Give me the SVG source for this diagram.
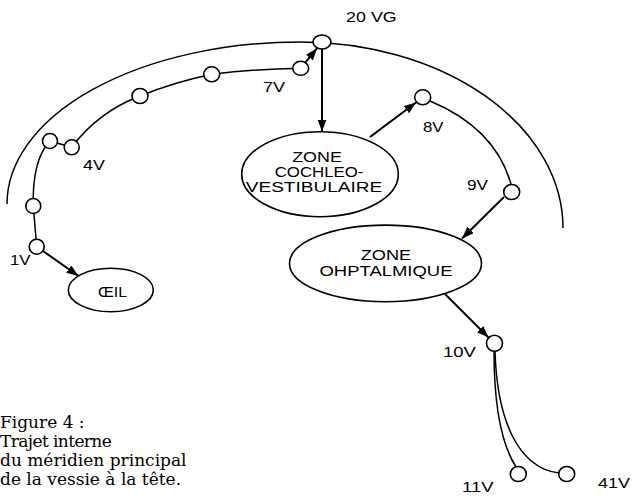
<svg xmlns="http://www.w3.org/2000/svg" width="632" height="496" viewBox="0 0 632 496">
<defs>
<marker id="ah" markerUnits="userSpaceOnUse" markerWidth="13" markerHeight="10" refX="12" refY="4.5" orient="auto">
<path d="M0,0 L12,4.5 L0,9 z" fill="#000"/>
</marker>
<style>
.n{fill:#fff;stroke:#000;stroke-width:1.6}
.z{fill:#fff;stroke:#000;stroke-width:1.6}
.l{fill:none;stroke:#000;stroke-width:1.5}
.a{fill:none;stroke:#000;stroke-width:2;marker-end:url(#ah)}
.t{font-family:"Liberation Sans",Arial,sans-serif;font-size:14px;fill:#000}
.m{text-anchor:middle}
.c{font-family:"DejaVu Serif","Liberation Serif",serif;font-size:17px;fill:#000}
</style>
</defs>
<rect width="632" height="496" fill="#fff"/>
<g id="head-outline">
<path class="l" d="M7,204 A293,162 0 0 1 300,42 A263,186 0 0 1 563,228"/>
</g>
<g id="connectors">
<path class="l" d="M36.7,246.7 L33.3,206"/>
<path class="l" d="M33.3,206 Q32,160 50,141"/>
<path class="l" d="M50,141 L71.7,147.3"/>
<path class="l" d="M71.7,147.3 Q98,112 140,96"/>
<path class="l" d="M140,96 Q175,82 211.7,74.3"/>
<path class="l" d="M211.7,74.3 Q255,69 300.7,68.3"/>
<path class="a" d="M305.7,62.1 L317,48.3"/>
<path class="a" d="M322,49 L322,131.5"/>
<path class="a" d="M370,137 L416,102.5"/>
<path class="l" d="M430,101 Q495,128 511,184"/>
<path class="a" d="M504,197 L462,238.5"/>
<path class="a" d="M445,294 L488.5,337.5"/>
<path class="l" d="M494,351 C494,400 500,442 516,467"/>
<path class="l" d="M495,351 C497,420 518,468 559,473"/>
<path class="a" d="M43,251 L78.5,276"/>
</g>
<g id="node-20VG"><ellipse class="n" cx="322" cy="42" rx="9" ry="7"/><text class="t" transform="translate(346,22) scale(1.28,1)">20 VG</text></g>
<g id="node-7V"><ellipse class="n" cx="300.7" cy="68.3" rx="8" ry="7"/><text class="t" transform="translate(263,92) scale(1.3,1)">7V</text></g>
<g id="node-6V"><ellipse class="n" cx="211.7" cy="74.3" rx="8" ry="7.5"/></g>
<g id="node-5V"><ellipse class="n" cx="140" cy="96" rx="8" ry="7.5"/></g>
<g id="node-4V"><ellipse class="n" cx="71.7" cy="147.3" rx="7.5" ry="7.5"/><text class="t" transform="translate(83,170) scale(1.28,1)">4V</text></g>
<g id="node-3V"><ellipse class="n" cx="50" cy="141" rx="7.5" ry="7.5"/></g>
<g id="node-2V"><ellipse class="n" cx="33.3" cy="206" rx="7.5" ry="7.5"/></g>
<g id="node-1V"><ellipse class="n" cx="36.7" cy="246.7" rx="7.5" ry="7.5"/><text class="t" transform="translate(10,265) scale(1.2,1)">1V</text></g>
<g id="node-oeil"><ellipse class="z" cx="110.8" cy="290" rx="42.5" ry="21.7"/><text class="t m" transform="translate(112.5,296.7) scale(1.13,1)">ŒIL</text></g>
<g id="node-cochleo"><ellipse class="z" cx="320" cy="174.2" rx="78.3" ry="42.5"/>
<text class="t m" transform="translate(317,161.5) scale(1.28,1)">ZONE</text>
<text class="t m" transform="translate(319,176.5) scale(1.2,1)">COCHLEO-</text>
<text class="t m" transform="translate(314,191.5) scale(1.36,1)">VESTIBULAIRE</text></g>
<g id="node-8V"><ellipse class="n" cx="422.7" cy="97.3" rx="8" ry="7.5"/><text class="t" transform="translate(423,131.7) scale(1.2,1)">8V</text></g>
<g id="node-9V"><ellipse class="n" cx="511.7" cy="192" rx="8" ry="7.5"/><text class="t" transform="translate(467,190) scale(1.23,1)">9V</text></g>
<g id="node-ophtalmique"><ellipse class="z" cx="385.5" cy="263.4" rx="96" ry="38.3"/>
<text class="t m" transform="translate(386,260) scale(1.3,1)">ZONE</text>
<text class="t m" transform="translate(386,275.5) scale(1.32,1)">OHPTALMIQUE</text></g>
<g id="node-10V"><ellipse class="n" cx="494.5" cy="343.3" rx="8" ry="8"/><text class="t" transform="translate(443,356.7) scale(1.32,1)">10V</text></g>
<g id="node-11V"><ellipse class="n" cx="518.3" cy="474" rx="8" ry="7.5"/><text class="t" transform="translate(462,491.7) scale(1.32,1)">11V</text></g>
<g id="node-41V"><ellipse class="n" cx="566.7" cy="474" rx="8" ry="7.5"/><text class="t" transform="translate(598,488) scale(1.28,1)">41V</text></g>
<g id="caption">
<text class="c" x="0" y="428">Figure 4 :</text>
<text class="c" x="0" y="447" letter-spacing="-0.6">Trajet interne</text>
<text class="c" x="0" y="466">du méridien principal</text>
<text class="c" x="0" y="485">de la vessie à la tête.</text>
</g>
</svg>
